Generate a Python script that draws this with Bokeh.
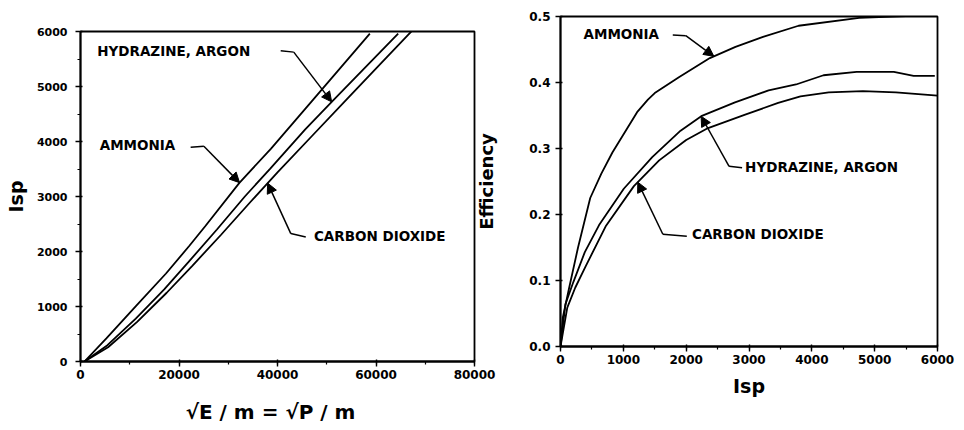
import numpy as np
from bokeh.plotting import figure
from bokeh.layouts import row
from bokeh.models import Range1d, FixedTicker, PrintfTickFormatter, Arrow, NormalHead
from bokeh.embed import file_html
from bokeh.resources import INLINE
from bokeh.core.properties import value

# ---------------- Left panel: Isp against sqrt(E/m) ----------------
root_em_ticks = [0, 20000, 40000, 60000, 80000]
isp_ticks_left = [0, 1000, 2000, 3000, 4000, 5000, 6000]

ammonia_root = [800, 5300, 11340, 17360, 22070, 25320, 32260, 38690, 47290, 58750]
ammonia_isp = [0, 425, 1016, 1600, 2100, 2460, 3248, 3872, 4767, 5960]

hydrazine_root = [800, 5470, 11220, 17000, 21950, 27700, 33370, 38530, 45630, 51400, 64500]
hydrazine_isp = [0, 297, 778, 1312, 1811, 2400, 3000, 3508, 4220, 4758, 5960]

co2_root = [800, 5600, 11500, 17500, 22700, 28500, 34500, 40000, 47000, 54000, 61000, 67600]
co2_isp = [0, 260, 720, 1250, 1740, 2300, 2900, 3440, 4100, 4760, 5420, 6040]

# ---------------- Right panel: efficiency against Isp ----------------
isp_ticks_right = [0, 1000, 2000, 3000, 4000, 5000, 6000]
eff_ticks = [0.0, 0.1, 0.2, 0.3, 0.4, 0.5]

ammonia_isp_r = [0, 37, 138, 279, 473, 650, 826, 1219, 1391, 1500, 1884, 2377, 2785,
                 3223, 3789, 4753, 5920]
ammonia_eff = [0, 0.044, 0.089, 0.150, 0.225, 0.262, 0.294, 0.355, 0.374, 0.384, 0.408,
               0.437, 0.454, 0.469, 0.486, 0.498, 0.502]

hydrazine_isp_r = [0, 78, 206, 387, 614, 1007, 1460, 1911, 2240, 2777, 3312, 3748,
                   4186, 4713, 5305, 5620, 5957]
hydrazine_eff = [0, 0.064, 0.098, 0.143, 0.184, 0.239, 0.287, 0.327, 0.349, 0.370,
                 0.388, 0.397, 0.411, 0.416, 0.416, 0.410, 0.410]

co2_isp_r = [0, 108, 234, 392, 725, 1168, 1570, 2000, 2327, 2928, 3464, 3819, 4269,
             4812, 5338, 6000]
co2_eff = [0, 0.059, 0.089, 0.120, 0.183, 0.243, 0.282, 0.313, 0.330, 0.351, 0.369,
           0.379, 0.385, 0.387, 0.385, 0.380]

FONT = "DejaVu Sans"
INK = "black"


def style_axes(p):
    for ax in (p.xaxis[0], p.yaxis[0]):
        ax.axis_line_color = INK
        ax.axis_line_width = 1.8
        ax.major_tick_line_color = INK
        ax.major_tick_line_width = 1.4
        ax.major_tick_out = 5
        ax.major_tick_in = 2
        ax.minor_tick_line_color = INK
        ax.minor_tick_line_width = 1.2
        ax.minor_tick_out = 3
        ax.minor_tick_in = 0
        ax.major_label_text_font = FONT
        ax.major_label_text_font_style = "bold"
        ax.major_label_text_color = INK
        ax.axis_label_text_font = FONT
        ax.axis_label_text_font_style = "bold"
        ax.axis_label_text_color = INK
    p.xgrid.visible = False
    p.ygrid.visible = False
    p.outline_line_color = INK
    p.outline_line_width = 1.8
    p.border_fill_alpha = 0


def annotate(p, text, text_xy, leader, tip, size="13.5px"):
    """Label, leader line, and a filled arrow ending on a curve."""
    p.text([text_xy[0]], [text_xy[1]], text=[text], text_font=value(FONT),
           text_font_style="bold", text_font_size=size, text_color=INK,
           text_baseline="middle", text_align="left")
    lx = [pt[0] for pt in leader]
    ly = [pt[1] for pt in leader]
    p.line(lx, ly, line_color=INK, line_width=1.5)
    bx, by = leader[-1]
    p.add_layout(Arrow(end=NormalHead(size=10, fill_color=INK, line_color=INK, line_width=1),
                       x_start=bx, y_start=by, x_end=tip[0], y_end=tip[1],
                       line_color=INK, line_width=1.5))


# ---------------- build left figure ----------------
p1 = figure(width=505, height=430, output_backend="svg", toolbar_location=None,
            x_range=Range1d(0, 80000), y_range=Range1d(0, 6000),
            min_border_left=80, min_border_right=31, min_border_top=31, min_border_bottom=69)
p1.xaxis.ticker = FixedTicker(ticks=root_em_ticks, minor_ticks=list(range(0, 80001, 10000)))
p1.yaxis.ticker = FixedTicker(ticks=isp_ticks_left, minor_ticks=list(range(0, 6001, 500)))
p1.xaxis.formatter = PrintfTickFormatter(format="%d")
p1.yaxis.formatter = PrintfTickFormatter(format="%d")
style_axes(p1)
p1.xaxis.major_label_text_font_size = "12px"
p1.yaxis.major_label_text_font_size = "11px"
p1.xaxis.major_label_standoff = 3
p1.yaxis.major_label_standoff = 8
p1.xaxis.axis_label = "\u221aE / m  =  \u221aP / m"
p1.xaxis.axis_label_text_font_size = "20px"
p1.xaxis.axis_label_standoff = 18
p1.yaxis.axis_label = "Isp"
p1.yaxis.axis_label_text_font_size = "19px"
p1.yaxis.axis_label_standoff = 7

for xs, ys in ((ammonia_root, ammonia_isp), (hydrazine_root, hydrazine_isp), (co2_root, co2_isp)):
    p1.line(xs, ys, line_color=INK, line_width=1.8)

tip = (51000, float(np.interp(51000, hydrazine_root, hydrazine_isp)))
annotate(p1, "HYDRAZINE, ARGON", (3400, 5640), [(40650, 5650), (43300, 5625)], tip)
tip = (32300, float(np.interp(32300, ammonia_root, ammonia_isp)))
annotate(p1, "AMMONIA", (3900, 3945), [(22370, 3897), (25050, 3912)], tip)
tip = (38000, float(np.interp(38000, co2_root, co2_isp)))
annotate(p1, "CARBON DIOXIDE", (47400, 2277), [(45740, 2264), (42700, 2326)], tip)

# ---------------- build right figure ----------------
# Same top/bottom borders as the left figure (the row aligns them); the
# whole figure is then lifted and pulled left with CSS margins.
p2 = figure(width=494, height=430, output_backend="svg", toolbar_location=None,
            x_range=Range1d(0, 6000), y_range=Range1d(0, 0.5),
            min_border_left=90, min_border_right=27, min_border_top=31, min_border_bottom=69)
p2.xaxis.ticker = FixedTicker(ticks=isp_ticks_right, minor_ticks=list(range(0, 6001, 500)))
p2.yaxis.ticker = FixedTicker(ticks=eff_ticks, minor_ticks=[])
p2.xaxis.formatter = PrintfTickFormatter(format="%d")
p2.yaxis.formatter = PrintfTickFormatter(format="%.1f")
style_axes(p2)
p2.xaxis.major_label_text_font_size = "12px"
p2.yaxis.major_label_text_font_size = "12px"
p2.xaxis.major_label_standoff = 3
p2.yaxis.major_label_standoff = 5
p2.xaxis.axis_label = "Isp"
p2.xaxis.axis_label_text_font_size = "19px"
p2.xaxis.axis_label_standoff = 8
p2.yaxis.axis_label = "Efficiency"
p2.yaxis.axis_label_text_font_size = "18px"
p2.yaxis.axis_label_standoff = 29
p2.styles = {"margin-left": "-35px", "margin-top": "-15px"}

for xs, ys in ((ammonia_isp_r, ammonia_eff), (hydrazine_isp_r, hydrazine_eff), (co2_isp_r, co2_eff)):
    p2.line(xs, ys, line_color=INK, line_width=1.8)

tip = (2441, float(np.interp(2441, ammonia_isp_r, ammonia_eff)))
annotate(p2, "AMMONIA", (366, 0.473), [(1787, 0.472), (1994, 0.471)], tip)
tip = (2238, float(np.interp(2238, hydrazine_isp_r, hydrazine_eff)))
annotate(p2, "HYDRAZINE, ARGON", (2938, 0.272), [(2890, 0.271), (2683, 0.273)], tip)
tip = (1230, float(np.interp(1230, co2_isp_r, co2_eff)))
annotate(p2, "CARBON DIOXIDE", (2093, 0.171), [(2010, 0.167), (1629, 0.170)], tip)

layout = row(p1, p2)
open("out.html", "w").write(file_html(layout, INLINE))
